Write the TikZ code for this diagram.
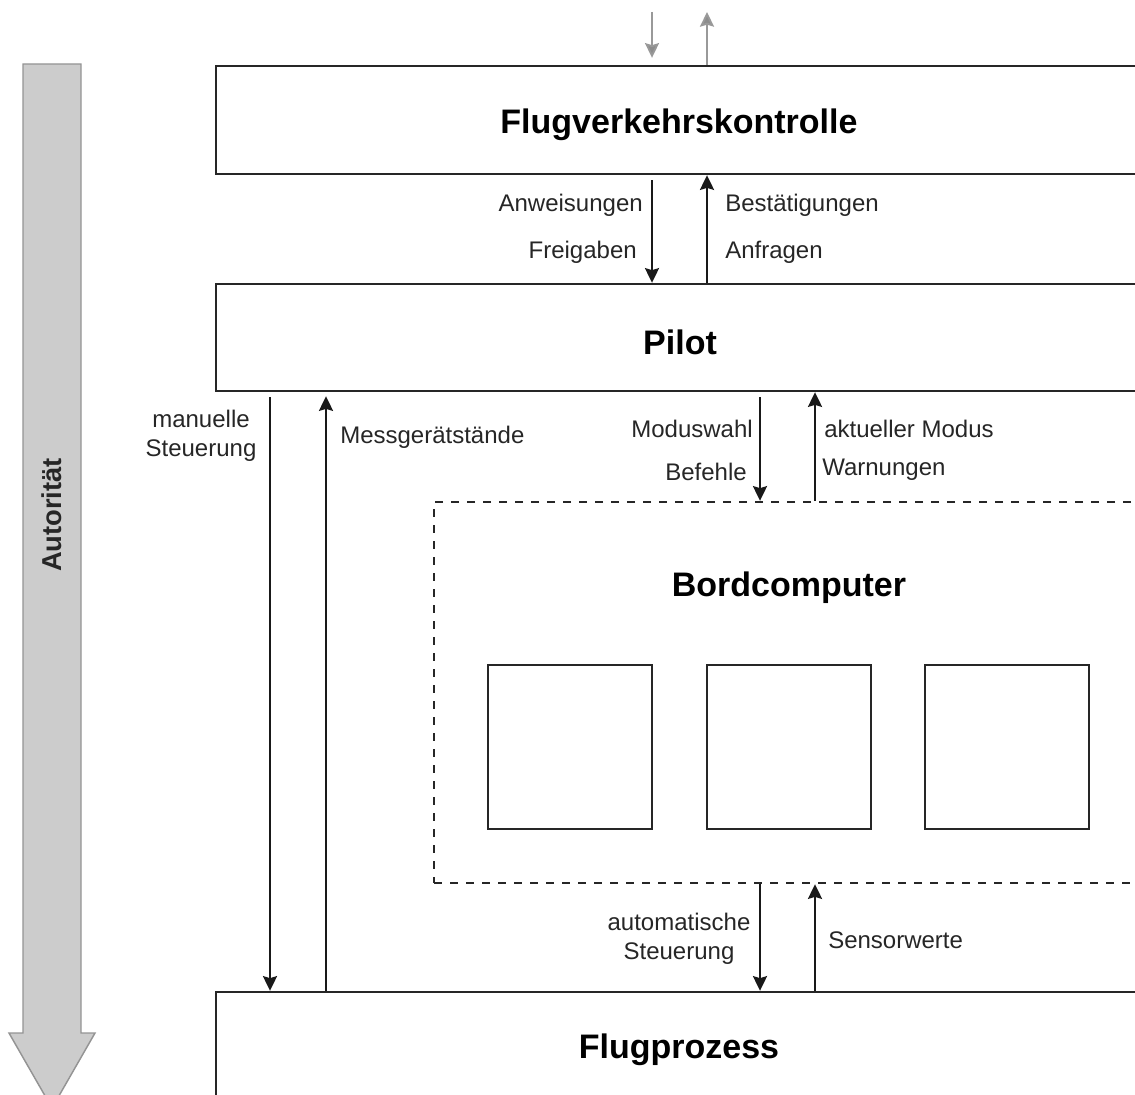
\documentclass[tikz,border=0pt]{standalone}
\usepackage{fontspec}
\setmainfont{Liberation Sans}
\usetikzlibrary{arrows.meta,calc}
\begin{document}
\begin{tikzpicture}[x=0.75pt,y=-0.75pt,
  box/.style={draw=black!85, line width=1.8pt, fill=white, inner sep=0pt},
  dashbox/.style={draw=black!85, line width=1.8pt, dash pattern=on 6pt off 6pt, inner sep=0pt},
  title/.style={font=\fontsize{25.5}{30}\selectfont\bfseries, inner sep=0pt},
  lbl/.style={font=\fontsize{18}{22}\selectfont, inner sep=0pt, text=black!85, align=center},
  flow/.style={line width=1.7pt, draw=black!90, -{Stealth[length=11pt,width=10.5pt,inset=1.5pt]}},
  ext/.style={line width=1.4pt, draw=black!40, -{Stealth[length=11pt,width=10.5pt,inset=1.5pt,fill=black!45]}},
  authority/.style={fill=black!20, draw=black!42, line width=1.1pt}
]
\useasboundingbox (0,0) rectangle (1135,1095);
\clip (0,0) rectangle (1135,1095);

% authority arrow on the left
\draw[authority] (23,64) -- (81,64) -- (81,1033) -- (95,1033) -- (52,1108)
  -- (9,1033) -- (23,1033) -- cycle;
\node[font=\fontsize{20.5}{24}\selectfont\bfseries, rotate=90, text=black!85] (auth) at (52,515) {Autorität};

% layers
\node[box, minimum width=694.5pt, minimum height=81pt] (fvk) at (679,120) {};
\node[title] (fvkt) at (679,125) {Flugverkehrskontrolle};
\node[box, minimum width=694.5pt, minimum height=80.25pt] (pilot) at (679,337.5) {};
\node[title] (pilott) at (680,342) {Pilot};
\node[dashbox, minimum width=532.5pt, minimum height=285.75pt] (bc) at (789,692.5) {};
\node[title] (bct) at (789,588) {Bordcomputer};
\node[box, minimum width=123pt, minimum height=123pt] (m1) at (570,747) {};
\node[box, minimum width=123pt, minimum height=123pt] (m2) at (789,747) {};
\node[box, minimum width=123pt, minimum height=123pt] (m3) at (1007,747) {};
\node[box, minimum width=694.5pt, minimum height=81pt] (fp) at (679,1046) {};
\node[title] (fpt) at (679,1050) {Flugprozess};

% columns of the connectors
\coordinate (cA) at (652,0);
\coordinate (cB) at (707,0);
\coordinate (cC) at (270,0);
\coordinate (cD) at (326,0);
\coordinate (cE) at (760,0);
\coordinate (cF) at (815,0);
\coordinate (top) at (0,12);

% outside connections of air traffic control
\draw[ext] (top -| cA) -- ($(fvk.north -| cA)+(0,-7)$);
\draw[ext] (fvk.north -| cB) -- (top -| cB);

% air traffic control <-> pilot
\draw[flow, shorten <=3.75pt] (fvk.south -| cA) -- (pilot.north -| cA);
\draw[flow] (pilot.north -| cB) -- (fvk.south -| cB);
\node[lbl, anchor=east] (l1) at (643,205) {Anweisungen};
\node[lbl, anchor=east] (l2) at (637,252) {Freigaben};
\node[lbl, anchor=west] (l3) at (725,205) {Bestätigungen};
\node[lbl, anchor=west] (l4) at (725,252) {Anfragen};

% pilot <-> flight process
\draw[flow, shorten <=3.75pt] (pilot.south -| cC) -- (fp.north -| cC);
\draw[flow, shorten >=3pt] (fp.north -| cD) -- (pilot.south -| cD);
\node[lbl] (l5) at (201,436) {manuelle\\Steuerung};
\node[lbl, anchor=west] (l6) at (340,437) {Messgerätstände};

% pilot <-> on-board computer
\draw[flow, shorten <=3.75pt] (pilot.south -| cE) -- (bc.north -| cE);
\draw[flow] (bc.north -| cF) -- (pilot.south -| cF);
\node[lbl, anchor=east] (l7) at (753,429) {Moduswahl};
\node[lbl, anchor=east] (l8) at (747,472) {Befehle};
\node[lbl, anchor=west] (l9) at (824,429) {aktueller Modus};
\node[lbl, anchor=west] (l10) at (822,470) {Warnungen};

% on-board computer <-> flight process
\draw[flow] (bc.south -| cE) -- (fp.north -| cE);
\draw[flow] (fp.north -| cF) -- (bc.south -| cF);
\node[lbl] (l11) at (679,939) {automatische\\Steuerung};
\node[lbl, anchor=west] (l12) at (828,940) {Sensorwerte};
\end{tikzpicture}
\end{document}
